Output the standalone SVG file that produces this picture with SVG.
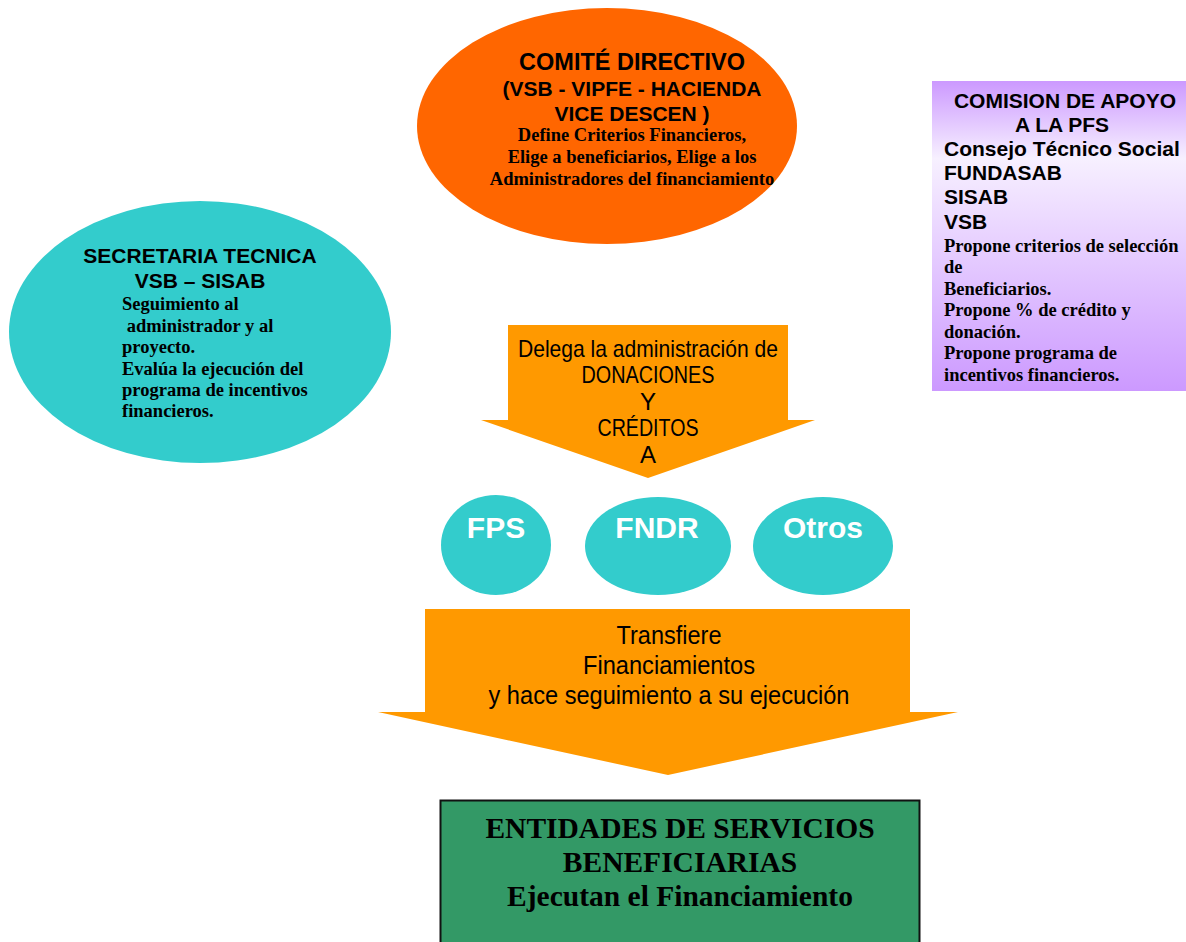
<svg xmlns="http://www.w3.org/2000/svg" width="1186" height="942" viewBox="0 0 1186 942">
<defs>
<linearGradient id="lav" x1="0" y1="0" x2="0" y2="1">
<stop offset="0" stop-color="#CC99FF"/>
<stop offset="0.25" stop-color="#F7F0FF"/>
<stop offset="1" stop-color="#CC99FF"/>
</linearGradient>
<style>
.sans{font-family:"Liberation Sans",Arial,sans-serif;font-weight:bold;fill:#000}
.serif{font-family:"Liberation Serif","Times New Roman",serif;font-weight:bold;fill:#000}
.narrow{font-family:"Liberation Sans Narrow","Liberation Sans",Arial,sans-serif;font-stretch:condensed;fill:#000}
.circ{fill:#33CCCC}
.circt{font-family:"Liberation Sans",Arial,sans-serif;font-weight:bold;fill:#fff;font-size:30px}
.arrow{fill:#FF9900}
.c{text-anchor:middle}
</style>
</defs>
<rect width="1186" height="942" fill="#fff"/>

<g id="connectors">
<g id="arrow-delega">
<polygon class="arrow" points="508,325 788,325 788,420 815,420 648,478 481,420 508,420"/>
<g class="narrow c" font-size="24">
<text x="648" y="357" textLength="260" lengthAdjust="spacingAndGlyphs">Delega la administración de</text>
<text x="648" y="383" textLength="133" lengthAdjust="spacingAndGlyphs">DONACIONES</text>
<text x="648" y="409.5">Y</text>
<text x="648" y="436" textLength="101" lengthAdjust="spacingAndGlyphs">CRÉDITOS</text>
<text x="648" y="463">A</text>
</g>
</g>
<g id="arrow-transfiere">
<polygon class="arrow" points="425,609 910,609 910,712 958,712 668,775 378,712 425,712"/>
<g class="narrow c" font-size="25">
<text x="669" y="644" textLength="105" lengthAdjust="spacingAndGlyphs">Transfiere</text>
<text x="669" y="674" textLength="172" lengthAdjust="spacingAndGlyphs">Financiamientos</text>
<text x="669" y="704" textLength="361" lengthAdjust="spacingAndGlyphs">y hace seguimiento a su ejecución</text>
</g>
</g>
</g>

<g id="comite">
<ellipse cx="607" cy="126" rx="190" ry="118" fill="#FF6600"/>
<text class="sans c" x="632" y="70" font-size="23.5">COMITÉ DIRECTIVO</text>
<text class="sans c" x="632" y="96" font-size="21">(VSB - VIPFE - HACIENDA</text>
<text class="sans c" x="632" y="120.5" font-size="21">VICE DESCEN )</text>
<g class="serif c" font-size="18.5">
<text x="632" y="141">Define Criterios Financieros,</text>
<text x="632" y="163">Elige a beneficiarios, Elige a los</text>
<text x="632" y="185">Administradores del financiamiento</text>
</g>
</g>

<g id="secretaria">
<ellipse cx="200" cy="332" rx="191" ry="131" fill="#33CCCC"/>
<text class="sans c" x="200" y="263" font-size="21">SECRETARIA TECNICA</text>
<text class="sans c" x="200" y="288" font-size="21">VSB – SISAB</text>
<g class="serif" font-size="18.5">
<text x="122" y="310">Seguimiento al</text>
<text x="122" y="331.5" xml:space="preserve"> administrador y al</text>
<text x="122" y="353">proyecto.</text>
<text x="122" y="374.5">Evalúa la ejecución del</text>
<text x="122" y="396">programa de incentivos</text>
<text x="122" y="417">financieros.</text>
</g>
</g>

<g id="comision">
<rect x="932" y="81" width="254" height="310" fill="url(#lav)"/>
<text class="sans c" x="1065" y="108" font-size="21">COMISION DE APOYO</text>
<text class="sans c" x="1062" y="132" font-size="21">A LA PFS</text>
<g class="sans" font-size="21">
<text x="944" y="155.5">Consejo Técnico Social</text>
<text x="944" y="179.5">FUNDASAB</text>
<text x="944" y="204">SISAB</text>
<text x="944" y="229">VSB</text>
</g>
<g class="serif" font-size="18.5">
<text x="944" y="252">Propone criterios de selección</text>
<text x="944" y="273">de</text>
<text x="944" y="295">Beneficiarios.</text>
<text x="944" y="316">Propone % de crédito y</text>
<text x="944" y="338">donación.</text>
<text x="944" y="359">Propone programa de</text>
<text x="944" y="381">incentivos financieros.</text>
</g>
</g>

<g id="fps">
<ellipse class="circ" cx="496" cy="545" rx="55" ry="50"/>
<text class="circt c" x="496" y="538">FPS</text>
</g>
<g id="fndr">
<ellipse class="circ" cx="658" cy="546" rx="73" ry="49"/>
<text class="circt c" x="657" y="538">FNDR</text>
</g>
<g id="otros">
<ellipse class="circ" cx="823" cy="546" rx="70" ry="49"/>
<text class="circt c" x="823" y="538">Otros</text>
</g>

<g id="entidades">
<rect x="440.5" y="800.5" width="479" height="150" fill="#339966" stroke="#111" stroke-width="2"/>
<g class="serif c" font-size="29.5">
<text x="680" y="838">ENTIDADES DE SERVICIOS</text>
<text x="680" y="872">BENEFICIARIAS</text>
<text x="680" y="906">Ejecutan el Financiamiento</text>
</g>
</g>
</svg>
